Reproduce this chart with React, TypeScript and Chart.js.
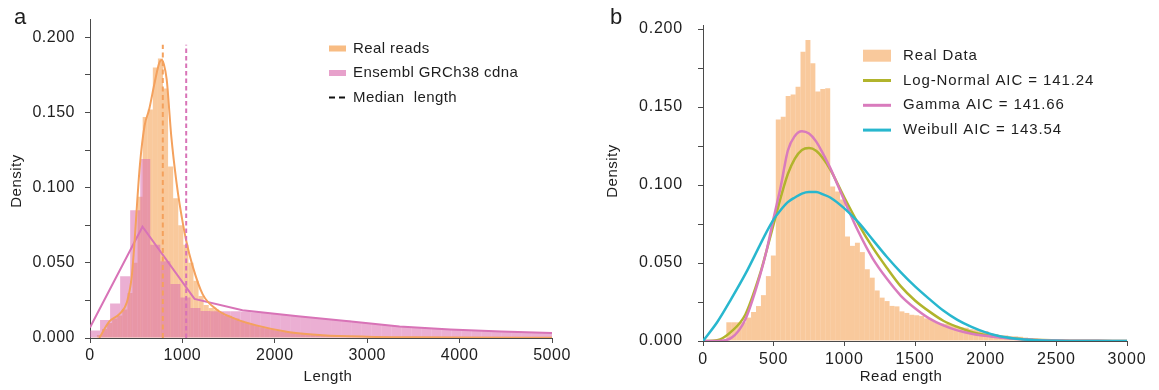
import React, { useEffect, useRef } from "react";
import { Chart, registerables } from "chart.js";

Chart.register(...registerables);

const FONT = "'Liberation Sans', Arimo, Arial, Helvetica, sans-serif";
const TEXT = "#1e1e1e";
const AXIS = "#4a4a4a";

// ---------------- Panel a ----------------
const realBinStart = 20;
const realBinWidth = 55;
const realReadsHist = [
  0.0005, 0.002, 0.006, 0.01, 0.013, 0.015, 0.019, 0.03, 0.05, 0.094, 0.147, 0.152, 0.18, 0.186, 0.166,
  0.114, 0.093, 0.075, 0.062, 0.05, 0.038, 0.028, 0.022, 0.02, 0.019, 0.017, 0.015, 0.014, 0.013, 0.0115,
  0.01, 0.009, 0.008, 0.0072, 0.0065, 0.0058, 0.005, 0.0045, 0.004, 0.0037, 0.0033, 0.003, 0.0027, 0.0024,
  0.0022, 0.002, 0.0018, 0.0016, 0.0015, 0.0013, 0.0012, 0.0011, 0.001, 0.0009, 0.0008, 0.0008, 0.0007,
  0.0006, 0.0006, 0.0005, 0.0005, 0.0004, 0.0004, 0.0003,
];

const cdnaBinStart = 0;
const cdnaBinWidth = 5000 / 46;
const cdnaHist = [
  0.005, 0.012, 0.023, 0.041, 0.085, 0.119, 0.062, 0.051, 0.036, 0.027, 0.02, 0.018, 0.0178, 0.0178,
  0.0178, 0.0176, 0.0172, 0.0166, 0.016, 0.0153, 0.0146, 0.014, 0.0133, 0.0127, 0.012, 0.0114, 0.0107,
  0.01, 0.0093, 0.0086, 0.0079, 0.0074, 0.007, 0.0066, 0.0062, 0.0059, 0.0056, 0.0053, 0.0051, 0.0048,
  0.0046, 0.0043, 0.0041, 0.0039, 0.0037, 0.0035,
];

const realKdeX = [
  100, 210, 320, 400, 450, 480, 510, 540, 590, 640, 700, 750, 775, 800, 830, 880, 935, 970, 1040, 1110,
  1220, 1370, 1540, 1800, 2160, 2520, 3000, 3500, 4000, 5000,
];
const realKdeY = [
  0, 0.011, 0.016, 0.024, 0.04, 0.062, 0.09, 0.115, 0.141, 0.152, 0.17, 0.183, 0.185, 0.182, 0.172, 0.134,
  0.104, 0.089, 0.065, 0.048, 0.029, 0.019, 0.0136, 0.0084, 0.0039, 0.0019, 0.0009, 0.0005, 0.0003, 0.0001,
];

const cdnaLineX = [0, 568, 1131, 1650, 2250, 2800, 3350, 3900, 4450, 5000];
const cdnaLineY = [0.007, 0.074, 0.026, 0.0185, 0.0145, 0.0112, 0.0076, 0.0057, 0.0044, 0.0033];

const medianReal = 788;
const medianCdna = 1041;
const medianTop = 0.195;

const legendA = ["Real reads", "Ensembl GRCh38 cdna", "Median  length"];

// ---------------- Panel b ----------------
const readBinStart = 165;
const readBinWidth = 35;
const readHist = [
  0.012, 0.012, 0.012, 0.012, 0.015, 0.0186, 0.0224, 0.0294, 0.0416, 0.0548, 0.142, 0.1437, 0.157, 0.158,
  0.163, 0.1855, 0.193, 0.178, 0.16, 0.1615, 0.162, 0.099, 0.0958, 0.0907, 0.067, 0.061, 0.063, 0.057,
  0.046, 0.0406, 0.0324, 0.0278, 0.0256, 0.0225, 0.0222, 0.019, 0.018, 0.0168, 0.0165, 0.016, 0.0145,
  0.0135, 0.0118, 0.0113, 0.011, 0.0105, 0.009, 0.0088, 0.0085, 0.0076, 0.0073, 0.0066, 0.0064, 0.005,
  0.0045, 0.0038, 0.0036, 0.0031, 0.003, 0.0027, 0.0022, 0.0017, 0.0014, 0.0011, 0.0008, 0.0005, 0.0004,
  0.0003, 0.0002,
];

const fitX = [
  0, 100, 200, 300, 400, 450, 500, 550, 600, 650, 700, 750, 800, 850, 900, 1000, 1100, 1200, 1300, 1400,
  1500, 1600, 1700, 1800, 1900, 2000, 2100, 2200, 2300, 2400, 2500, 2600, 2800, 3000,
];
const logNormalY = [
  0, 0.0005, 0.006, 0.017, 0.042, 0.058, 0.075, 0.092, 0.107, 0.117, 0.1225, 0.1237, 0.122, 0.117, 0.11,
  0.092, 0.075, 0.06, 0.047, 0.035, 0.026, 0.019, 0.013, 0.009, 0.0058, 0.0038, 0.0025, 0.0016, 0.001,
  0.0006, 0.0004, 0.0002, 0.0001, 0,
];
const gammaY = [
  0, 0, 0.002, 0.014, 0.041, 0.058, 0.079, 0.099, 0.122, 0.1315, 0.1345, 0.133, 0.128, 0.12, 0.111, 0.09,
  0.07, 0.053, 0.04, 0.029, 0.021, 0.0145, 0.01, 0.0068, 0.0047, 0.0033, 0.0022, 0.0014, 0.0009, 0.0005,
  0.0003, 0.0002, 0.0001, 0,
];
const weibullY = [
  0, 0.012, 0.027, 0.043, 0.061, 0.07, 0.078, 0.084, 0.089, 0.092, 0.0945, 0.0955, 0.0955, 0.094, 0.092,
  0.085, 0.076, 0.065, 0.054, 0.044, 0.035, 0.027, 0.0195, 0.0135, 0.009, 0.0055, 0.003, 0.0016, 0.0008,
  0.0003, 0.0001, 0.00005, 0, 0,
];
const legendB = ["Real Data", "Log-Normal AIC = 141.24", "Gamma AIC = 141.66", "Weibull AIC = 143.54"];

// ---------------- Colours ----------------
const ORANGE_BAR = "rgba(245, 165, 90, 0.6)";
const ORANGE_PATCH = "rgba(245, 165, 90, 0.75)";
const ORANGE_LINE = "#f4a15d";
const PINK_BAR = "rgba(218, 110, 175, 0.55)";
const PINK_PATCH = "rgba(218, 110, 175, 0.65)";
const PINK_LINE = "#d873b7";
const OLIVE = "#b1b42c";
const GAMMA_PINK = "#d97bbd";
const CYAN = "#28b7ce";

type TextItem = { text: string; x: number; y: number; size: number; rotate?: boolean; align?: CanvasTextAlign; baseline?: CanvasTextBaseline; spacing?: string };
type LegendItem = { text: string; kind: "patch" | "line"; color: string; h?: number; dash?: number[]; width?: number };
type LegendCfg = { symbolX: number; symbolW: number; textX: number; y0: number; gap: number; size: number; spacing: string; items: LegendItem[] };

function overlayPlugin(texts: TextItem[], legend: LegendCfg, tickSpacing: string) {
  return {
    id: "overlay",
    beforeDraw(chart: any) {
      chart.ctx.letterSpacing = tickSpacing;
    },
    afterDraw(chart: any) {
      const ctx = chart.ctx as CanvasRenderingContext2D & { letterSpacing: string };
      ctx.save();
      // legend
      ctx.font = `${legend.size}px ${FONT}`;
      ctx.letterSpacing = legend.spacing;
      ctx.textBaseline = "middle";
      ctx.textAlign = "left";
      legend.items.forEach((it, i) => {
        const cy = legend.y0 + i * legend.gap;
        if (it.kind === "patch") {
          const h = it.h || 6;
          ctx.fillStyle = it.color;
          ctx.fillRect(legend.symbolX, cy - h / 2, legend.symbolW, h);
        } else {
          ctx.save();
          ctx.strokeStyle = it.color;
          ctx.lineWidth = it.width || 2;
          ctx.setLineDash(it.dash || []);
          ctx.beginPath();
          ctx.moveTo(legend.symbolX, cy);
          ctx.lineTo(legend.symbolX + legend.symbolW, cy);
          ctx.stroke();
          ctx.restore();
        }
        ctx.fillStyle = TEXT;
        ctx.fillText(it.text, legend.textX, cy);
      });
      // titles / panel letters
      texts.forEach((t) => {
        ctx.save();
        ctx.font = `${t.size}px ${FONT}`;
        ctx.letterSpacing = t.spacing || "0px";
        ctx.fillStyle = TEXT;
        ctx.textAlign = t.align || "center";
        ctx.textBaseline = t.baseline || "middle";
        ctx.translate(t.x, t.y);
        if (t.rotate) ctx.rotate(-Math.PI / 2);
        ctx.fillText(t.text, 0, 0);
        ctx.restore();
      });
      ctx.restore();
    },
  };
}

const tickFont = { size: 16, family: FONT };
const gridStyle = { display: true, drawOnChartArea: false, drawTicks: true, tickLength: 5, color: AXIS, offset: false };
const borderStyle = { display: true, color: AXIS, width: 1 };
const yLabel = (v: number) => (Math.round(v * 1000) % 50 === 0 ? v.toFixed(3) : "");

const hist = (vals: number[], start: number, w: number) => vals.map((y, i) => ({ x: start + (i + 0.5) * w, y }));
const pts = (xs: number[], ys: number[]) => xs.map((x, i) => ({ x, y: ys[i] }));

const barStyle = { borderWidth: 0, barPercentage: 1, categoryPercentage: 1, inflateAmount: 0, grouped: false };

function configA(): any {
  return {
    type: "bar",
    data: {
      datasets: [
        { type: "bar", label: legendA[0], xAxisID: "x2", data: hist(realReadsHist, realBinStart, realBinWidth), backgroundColor: ORANGE_BAR, ...barStyle, order: 11 },
        { type: "bar", label: legendA[1], xAxisID: "x", data: hist(cdnaHist, cdnaBinStart, cdnaBinWidth), backgroundColor: PINK_BAR, ...barStyle, order: 10 },
        { type: "line", label: "cdna density", xAxisID: "x", data: pts(cdnaLineX, cdnaLineY), borderColor: PINK_LINE, borderWidth: 2, pointRadius: 0, tension: 0, order: 3 },
        { type: "line", label: "real reads density", xAxisID: "x", data: pts(realKdeX, realKdeY), borderColor: ORANGE_LINE, borderWidth: 2, pointRadius: 0, cubicInterpolationMode: "monotone", order: 2 },
        { type: "line", label: "median real", xAxisID: "x", data: [{ x: medianReal, y: 0 }, { x: medianReal, y: medianTop }], borderColor: ORANGE_LINE, borderWidth: 2, borderDash: [5, 3.5], pointRadius: 0, order: 1 },
        { type: "line", label: "median cdna", xAxisID: "x", data: [{ x: medianCdna, y: 0 }, { x: medianCdna, y: medianTop }], borderColor: PINK_LINE, borderWidth: 2, borderDash: [4.5, 3], pointRadius: 0, order: 1 },
      ],
    },
    options: {
      responsive: false,
      animation: false,
      devicePixelRatio: 1,
      events: [],
      layout: { padding: { left: 0, top: 10, right: 27, bottom: 0 } },
      plugins: { legend: { display: false }, tooltip: { enabled: false } },
      scales: {
        x: {
          type: "linear", min: 0, max: 5000, offset: false,
          ticks: { stepSize: 1000, color: TEXT, font: tickFont, padding: 3, maxRotation: 0, autoSkip: false, callback: (v: number) => String(v) },
          grid: gridStyle, border: borderStyle,
          afterFit: (s: any) => { s.height = 52; },
        },
        x2: { type: "linear", min: 0, max: 5000, offset: false, display: false },
        y: {
          type: "linear", min: 0, max: 0.2118,
          ticks: { stepSize: 0.025, includeBounds: false, color: TEXT, font: tickFont, padding: 10, callback: yLabel },
          grid: gridStyle, border: borderStyle,
          afterFit: (s: any) => { s.width = 90; },
        },
      },
    },
    plugins: [
      overlayPlugin(
        [
          { text: "a", x: 14, y: 24, size: 22, align: "left", baseline: "alphabetic" },
          { text: "Density", x: 17, y: 181, size: 15, rotate: true, spacing: "0.5px" },
          { text: "Length", x: 328, y: 377, size: 15, spacing: "0.5px" },
        ],
        {
          symbolX: 329, symbolW: 17, textX: 353, y0: 48.5, gap: 24.5, size: 15, spacing: "0.4px",
          items: [
            { text: legendA[0], kind: "patch", color: ORANGE_PATCH, h: 6 },
            { text: legendA[1], kind: "patch", color: PINK_PATCH, h: 6 },
            { text: legendA[2], kind: "line", color: "#111", dash: [6, 4], width: 2 },
          ],
        },
        "0.5px"
      ),
    ],
  };
}

function configB(): any {
  return {
    type: "bar",
    data: {
      datasets: [
        { type: "bar", label: legendB[0], data: hist(readHist, readBinStart, readBinWidth), backgroundColor: ORANGE_BAR, ...barStyle, order: 10 },
        { type: "line", label: legendB[1], data: pts(fitX, logNormalY), borderColor: OLIVE, borderWidth: 2.5, pointRadius: 0, cubicInterpolationMode: "monotone", order: 3 },
        { type: "line", label: legendB[2], data: pts(fitX, gammaY), borderColor: GAMMA_PINK, borderWidth: 2.5, pointRadius: 0, cubicInterpolationMode: "monotone", order: 2 },
        { type: "line", label: legendB[3], data: pts(fitX, weibullY), borderColor: CYAN, borderWidth: 2.5, pointRadius: 0, cubicInterpolationMode: "monotone", order: 1 },
      ],
    },
    options: {
      responsive: false,
      animation: false,
      devicePixelRatio: 1,
      events: [],
      layout: { padding: { left: 0, top: 25, right: 32, bottom: 0 } },
      plugins: { legend: { display: false }, tooltip: { enabled: false } },
      scales: {
        x: {
          type: "linear", min: 0, max: 3000, offset: false,
          ticks: { stepSize: 500, color: TEXT, font: tickFont, padding: 4, maxRotation: 0, autoSkip: false, callback: (v: number) => String(v) },
          grid: gridStyle, border: borderStyle,
          afterFit: (s: any) => { s.height = 49; },
        },
        y: {
          type: "linear", min: 0, max: 0.2026,
          ticks: { stepSize: 0.025, includeBounds: false, color: TEXT, font: tickFont, padding: 15, callback: yLabel },
          grid: gridStyle, border: borderStyle,
          afterFit: (s: any) => { s.width = 124; },
        },
      },
    },
    plugins: [
      overlayPlugin(
        [
          { text: "b", x: 31, y: 23.5, size: 22, align: "left", baseline: "alphabetic" },
          { text: "Density", x: 33.5, y: 171, size: 15, rotate: true, spacing: "0.5px" },
          { text: "Read ength", x: 322, y: 377, size: 15, spacing: "0.5px" },
        ],
        {
          symbolX: 284, symbolW: 28, textX: 324, y0: 55.7, gap: 24.8, size: 15, spacing: "0.9px",
          items: [
            { text: legendB[0], kind: "patch", color: ORANGE_BAR, h: 12 },
            { text: legendB[1], kind: "line", color: OLIVE, width: 3 },
            { text: legendB[2], kind: "line", color: GAMMA_PINK, width: 3 },
            { text: legendB[3], kind: "line", color: CYAN, width: 3 },
          ],
        },
        "0.8px"
      ),
    ],
  };
}

function ChartCanvas({ make, left, width }: { make: () => any; left: number; width: number }) {
  const ref = useRef<HTMLCanvasElement>(null);
  useEffect(() => {
    const chart = new Chart(ref.current as HTMLCanvasElement, make());
    return () => chart.destroy();
  }, []);
  return (
    <canvas
      ref={ref}
      width={width}
      height={390}
      style={{ position: "absolute", left, top: 0, width, height: 390 }}
    />
  );
}

export default function App() {
  return (
    <div style={{ position: "absolute", left: 0, top: 0, width: 1159, height: 390, background: "#fff", overflow: "hidden" }}>
      <ChartCanvas make={configA} left={0} width={579} />
      <ChartCanvas make={configB} left={579} width={580} />
    </div>
  );
}
